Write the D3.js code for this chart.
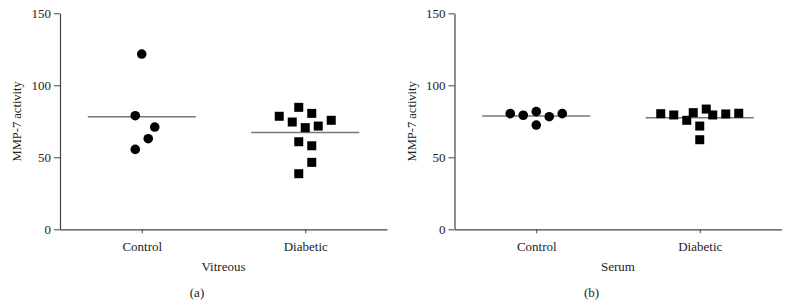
<!DOCTYPE html>
<html><head><meta charset="utf-8">
<script src="https://cdn.jsdelivr.net/npm/d3@7"></script>
<style>
html,body{margin:0;padding:0;background:#fff;}
svg text{font-family:"Liberation Serif","Times New Roman",serif;fill:#222;}
</style></head>
<body><svg id="chart" width="787" height="305"></svg>
<script>
// ---- data ----
const groups = ["Control", "Diabetic"];
const yTicks = [0, 50, 100, 150];
const panelTitles = ["Vitreous", "Serum"];
const panelLetters = ["(a)", "(b)"];
const yLabel = "MMP-7 activity";

// Vitreous
const vitControl = [121.7, 78.9, 71.0, 62.9, 55.5];
const vitControlSlot = [0, -1, 2, 1, -1];
const vitDiabetic = [84.7, 80.5, 78.5, 74.5, 75.7, 70.6, 71.7, 60.8, 58.0, 46.5, 38.6];
const vitDiabeticSlot = [-1, 1, -4, -2, 4, 0, 2, -1, 1, 1, -1];
const vitMeans = [78.2, 67.3];

// Serum
const serControl = [80.3, 79.2, 81.7, 78.2, 80.3, 72.4];
const serControlSlot = [-4, -2, 0, 2, 4, 0];
const serDiabetic = [80.3, 79.4, 75.7, 81.0, 83.5, 79.4, 80.1, 80.6, 71.7, 62.2];
const serDiabeticSlot = [-6, -4, -2, -1, 1, 2, 4, 6, 0, 0];
const serMeans = [78.7, 77.5];

const panels = [
  {ox: 0, title: panelTitles[0], letter: panelLetters[0],
   series: [{vals: vitControl, slots: vitControlSlot, shape: "circle"},
            {vals: vitDiabetic, slots: vitDiabeticSlot, shape: "square"}],
   means: vitMeans},
  {ox: 394.5, title: panelTitles[1], letter: panelLetters[1],
   series: [{vals: serControl, slots: serControlSlot, shape: "circle"},
            {vals: serDiabetic, slots: serDiabeticSlot, shape: "square"}],
   means: serMeans}
];

const svg = d3.select("#chart");
const axisColor = "#444";
const lineColor = "#777";

panels.forEach(p => {
  const left = 60, right = 387, top = 13.3, bottom = 229.3;
  const g = svg.append("g").attr("transform", `translate(${p.ox},0)`);
  const y = d3.scaleLinear().domain([0, 150]).range([bottom, top]);
  const x = d3.scalePoint().domain(groups).range([left, right]).padding(0.5);
  const slot = d3.scaleLinear().domain([0, 1]).range([0, 6.5]);

  const ya = g.append("g").attr("transform", `translate(${left},0)`)
    .call(d3.axisLeft(y).tickValues(yTicks).tickSize(6).tickPadding(3).tickSizeOuter(0));
  const xa = g.append("g").attr("transform", `translate(0,${bottom})`)
    .call(d3.axisBottom(x).tickSize(4).tickPadding(6).tickSizeOuter(0));
  [ya, xa].forEach(a => {
    a.select(".domain").attr("stroke", axisColor).attr("stroke-width", 1.2);
    a.selectAll(".tick line").attr("stroke", axisColor);
    a.selectAll("text").attr("font-size", 13).attr("font-family", "Liberation Serif, serif").attr("fill", "#222");
  });
  xa.selectAll("text").attr("dy", "0.9em");

  // mean lines
  g.selectAll(".mean").data(p.means).join("line")
    .attr("x1", (d, i) => x(groups[i]) - 54)
    .attr("x2", (d, i) => x(groups[i]) + 54)
    .attr("y1", d => y(d)).attr("y2", d => y(d))
    .attr("stroke", lineColor).attr("stroke-width", 1.5);

  p.series.forEach((s, si) => {
    const cx = x(groups[si]);
    const pts = s.vals.map((v, i) => ({v, s: s.slots[i]}));
    if (s.shape === "circle") {
      g.selectAll(null).data(pts).join("circle")
        .attr("cx", d => cx + slot(d.s)).attr("cy", d => y(d.v))
        .attr("r", 4.8).attr("fill", "#000");
    } else {
      const sz = 9;
      g.selectAll(null).data(pts).join("rect")
        .attr("x", d => cx + slot(d.s) - sz / 2).attr("y", d => y(d.v) - sz / 2)
        .attr("width", sz).attr("height", sz).attr("fill", "#000");
    }
  });

  g.append("text").attr("transform", `translate(17,${(top + bottom) / 2}) rotate(-90)`)
    .attr("text-anchor", "middle").attr("dy", "0.35em").attr("font-size", 12.5).text(yLabel);
  g.append("text").attr("x", (left + right) / 2).attr("y", 271)
    .attr("text-anchor", "middle").attr("font-size", 13).text(p.title);
  g.append("text").attr("x", 197).attr("y", 297)
    .attr("text-anchor", "middle").attr("font-size", 13).text(p.letter);
});
</script></body></html>
